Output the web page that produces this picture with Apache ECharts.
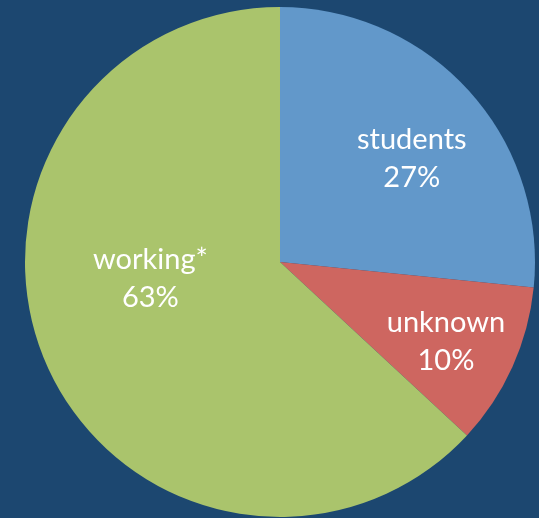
<!DOCTYPE html>
<html><head><meta charset="utf-8">
<script src="https://cdn.jsdelivr.net/npm/echarts@6/dist/echarts.min.js"></script>
<style>html,body{margin:0;padding:0;background:#1C4770;}#c{width:539px;height:518px;}</style>
</head><body><div id="c"></div>
<script>
const categories = ['students', 'unknown', 'working*'];
const values = [26.6, 10.3, 63.1];
const colors = ['#6298CA', '#CE6660', '#AAC46C'];
const labelShift = [[35, -16], [47, 26], [-10, -36]];

const chart = echarts.init(document.getElementById('c'));
chart.setOption({
  backgroundColor: '#1C4770',
  animation: false,
  series: [{
    type: 'pie',
    center: [280, 262],
    radius: [0, 255],
    startAngle: 90,
    clockwise: true,
    percentPrecision: 0,
    data: categories.map((n, i) => ({ name: n, value: values[i], itemStyle: { color: colors[i] } })),
    label: {
      position: 'inside',
      formatter: '{b}\n{d}%',
      color: '#fff',
      fontFamily: 'Lato',
      fontSize: 29,
      lineHeight: 38
    },
    labelLine: { show: false },
    labelLayout: p => ({ dx: labelShift[p.dataIndex][0], dy: labelShift[p.dataIndex][1] }),
    emphasis: { disabled: true }
  }]
});
</script></body></html>
